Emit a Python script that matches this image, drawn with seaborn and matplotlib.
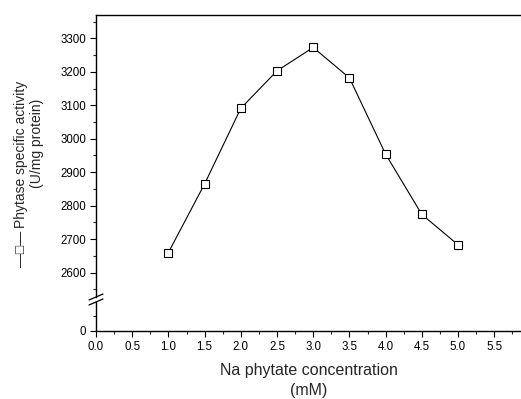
import numpy as np
import pandas as pd
import matplotlib
matplotlib.use("Agg")
import matplotlib.pyplot as plt
import seaborn as sns
from matplotlib.ticker import MultipleLocator, FixedLocator, FormatStrFormatter
from matplotlib.lines import Line2D

# values
concentration = [1.0, 1.5, 2.0, 2.5, 3.0, 3.5, 4.0, 4.5, 5.0]
activity = [2660, 2865, 3091, 3203, 3273, 3182, 2954, 2774, 2683]
x_ticks = [0.0, 0.5, 1.0, 1.5, 2.0, 2.5, 3.0, 3.5, 4.0, 4.5, 5.0, 5.5]
upper_ticks = [2600, 2700, 2800, 2900, 3000, 3100, 3200, 3300]
lower_ticks = [0]

W, H = 521, 399

sns.set_style("ticks")
plt.rcParams["font.family"] = ["Liberation Sans", "DejaVu Sans"]
plt.rcParams["xtick.direction"] = "out"
plt.rcParams["ytick.direction"] = "out"

df = pd.DataFrame({"conc": concentration, "activity": activity})

fig = plt.figure(figsize=(W / 100, H / 100), dpi=100)
left = 96 / W
ax_top = fig.add_axes([left, 1 - 297 / H, 1 - left, (297 - 15) / H])
ax_low = fig.add_axes([left, 1 - 330.5 / H, 1 - left, (330.5 - 302) / H])

sns.lineplot(data=df, x="conc", y="activity", ax=ax_top, color="black", lw=0.8,
             marker="s", markersize=5.5, markerfacecolor="white",
             markeredgecolor="black", markeredgewidth=0.8)

for ax in (ax_top, ax_low):
    ax.set_xlim(0, 5.87)
    ax.set_facecolor("none")
    for s in ax.spines.values():
        s.set_linewidth(1.0)
        s.set_color("black")
    ax.tick_params(which="major", length=4.5, width=0.8, labelsize=8.3, colors="black", pad=2.5)
    ax.tick_params(which="minor", length=2.5, width=0.8)
    ax.set_xlabel("")
    ax.set_ylabel("")

# upper part
ax_top.set_ylim(2527, 3370)
ax_top.yaxis.set_major_locator(FixedLocator(upper_ticks))
ax_top.yaxis.set_minor_locator(MultipleLocator(50))
ax_top.spines["bottom"].set_visible(False)
ax_top.spines["right"].set_visible(False)
ax_top.spines["top"].set_visible(True)
ax_top.tick_params(axis="x", which="both", bottom=False, labelbottom=False)

# lower part
ax_low.set_ylim(0, 100)
ax_low.yaxis.set_major_locator(FixedLocator(lower_ticks))
ax_low.yaxis.set_minor_locator(MultipleLocator(50))
ax_low.spines["top"].set_visible(False)
ax_low.spines["right"].set_visible(False)
ax_low.xaxis.set_major_locator(FixedLocator(x_ticks))
ax_low.xaxis.set_minor_locator(MultipleLocator(0.25))
ax_low.xaxis.set_major_formatter(FormatStrFormatter("%.1f"))
ax_low.tick_params(axis="x", pad=3)
ax_low.set_xlabel("Na phytate concentration\n(mM)", fontsize=11.5, labelpad=7, linespacing=1.45)

# axis break marks
for y0 in (300, 305):
    fig.add_artist(Line2D([89 / W, 103 / W], [1 - y0 / H, 1 - (y0 - 6) / H],
                          color="black", lw=0.9))

# y label with the series symbol
fig.text(21 / W, 1 - 154 / H, "Phytase specific activity",
         rotation=90, ha="center", va="center", fontsize=10)
fig.text(37 / W, 1 - 143.5 / H, "(U/mg protein)",
         rotation=90, ha="center", va="center", fontsize=10)
fig.text(21 / W, 1 - 249 / H, "\u2014\u25a1\u2014", rotation=90,
         ha="center", va="center", fontsize=10)

fig.savefig("out.png", dpi=100)
